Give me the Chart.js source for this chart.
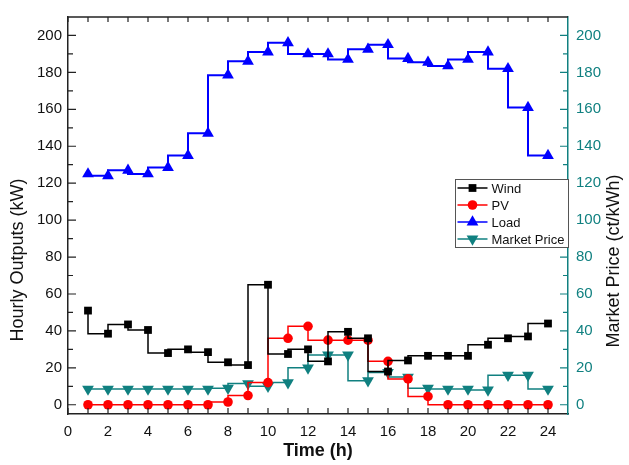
<!DOCTYPE html>
<html>
<head>
<meta charset="utf-8">
<script src="https://cdn.jsdelivr.net/npm/chart.js@4/dist/chart.umd.min.js"></script>
<style>
  html, body { margin: 0; padding: 0; background: #fff; }
  canvas { display: block; }
</style>
</head>
<body>
<canvas id="chart" width="629" height="465"></canvas>
<script>
// data
const hours = [1, 2, 3, 4, 5, 6, 7, 8, 9, 10, 11, 12, 13, 14, 15, 16, 17, 18, 19, 20, 21, 22, 23, 24];
const windOut = [51, 38.5, 43.5, 40.5, 28, 30, 28.5, 23, 21.5, 65, 27.5, 30, 23.5, 39.5, 36, 18, 24, 26.5, 26.5, 26.5, 32.5, 36, 37, 44];
const pvOut = [0, 0, 0, 0, 0, 0, 0, 1.5, 5, 12, 36, 42.5, 35, 35, 35, 23.5, 14, 4.5, 0, 0, 0, 0, 0, 0];
const loadOut = [125, 124, 127, 125, 128.5, 135, 147, 178.5, 186, 191, 196, 190, 190, 187, 192.5, 195, 187.5, 185.5, 183.5, 187, 191, 182, 161, 135];
const marketPrice = [8.5, 8.5, 8.5, 8.5, 8.5, 8.5, 8.5, 9, 11.5, 10, 12, 20, 27, 27, 13, 17.5, 15, 9, 8.5, 8.5, 8, 16, 16, 8.5];

const xTicks = [0, 2, 4, 6, 8, 10, 12, 14, 16, 18, 20, 22, 24];
const yTicks = [0, 20, 40, 60, 80, 100, 120, 140, 160, 180, 200];

const FONT = '"Liberation Sans", Arial, sans-serif';
const TEAL = '#108080';

const pts = vals => hours.map((h, i) => ({ x: h, y: vals[i] }));
const midpoints = arr => arr.slice(1).map((v, i) => (v + arr[i]) / 2);

const series = [
  { label: 'Wind', data: windOut, color: '#000000', style: 'rect', radius: 5.5, rot: 0, axis: 'y' },
  { label: 'PV', data: pvOut, color: '#ff0000', style: 'circle', radius: 4.8, rot: 0, axis: 'y' },
  { label: 'Load', data: loadOut, color: '#0000ff', style: 'triangle', radius: 6.8, rot: 0, axis: 'y' },
  { label: 'Market Price', data: marketPrice, color: TEAL, style: 'triangle', radius: 6.8, rot: 180, axis: 'y1' }
];

function marker(ctx, style, x, y, r, rot, color) {
  ctx.fillStyle = color;
  ctx.beginPath();
  if (style === 'rect') {
    const s = r * Math.SQRT1_2;
    ctx.rect(x - s, y - s, 2 * s, 2 * s);
  } else if (style === 'circle') {
    ctx.arc(x, y, r, 0, Math.PI * 2);
  } else {
    let a = rot * Math.PI / 180;
    ctx.moveTo(x + Math.sin(a) * r, y - Math.cos(a) * r);
    a += Math.PI * 2 / 3;
    ctx.lineTo(x + Math.sin(a) * r, y - Math.cos(a) * r);
    a += Math.PI * 2 / 3;
    ctx.lineTo(x + Math.sin(a) * r, y - Math.cos(a) * r);
    ctx.closePath();
  }
  ctx.fill();
}

const decorations = {
  id: 'decorations',
  afterDraw(chart) {
    const { ctx, chartArea: a, scales } = chart;
    ctx.save();

    // top frame line
    ctx.strokeStyle = '#222';
    ctx.lineWidth = 1.5;
    ctx.beginPath();
    ctx.moveTo(a.left, a.top);
    ctx.lineTo(a.right, a.top);
    ctx.stroke();

    // inward ticks
    const tick = (x1, y1, x2, y2) => { ctx.moveTo(x1, y1); ctx.lineTo(x2, y2); };
    ctx.lineWidth = 1.2;
    ctx.beginPath();
    xTicks.concat(midpoints(xTicks)).forEach(v => {
      const px = scales.x.getPixelForValue(v);
      tick(px, a.bottom, px, a.bottom - 6);
      tick(px, a.top, px, a.top + 5);
    });
    yTicks.forEach(v => { const py = scales.y.getPixelForValue(v); tick(a.left, py, a.left + 8, py); });
    midpoints(yTicks).forEach(v => { const py = scales.y.getPixelForValue(v); tick(a.left, py, a.left + 5, py); });
    ctx.stroke();

    ctx.strokeStyle = TEAL;
    ctx.beginPath();
    yTicks.forEach(v => { const py = scales.y1.getPixelForValue(v); tick(a.right, py, a.right - 8, py); });
    midpoints(yTicks).forEach(v => { const py = scales.y1.getPixelForValue(v); tick(a.right, py, a.right - 5, py); });
    ctx.stroke();

    // axis titles
    ctx.fillStyle = '#111';
    ctx.textAlign = 'center';
    ctx.textBaseline = 'middle';
    ctx.font = '18px ' + FONT;
    ctx.save();
    ctx.translate(18, 260);
    ctx.rotate(-Math.PI / 2);
    ctx.fillText('Hourly Outputs (kW)', 0, 0);
    ctx.restore();
    ctx.save();
    ctx.translate(614, 261);
    ctx.rotate(-Math.PI / 2);
    ctx.fillText('Market Price (ct/kWh)', 0, 0);
    ctx.restore();
    ctx.font = 'bold 18px ' + FONT;
    ctx.fillText('Time (h)', (a.left + a.right) / 2, 451);

    // legend box
    const bx = 455.5, by = 179.5, bw = 113, rowH = 17;
    ctx.fillStyle = '#fff';
    ctx.fillRect(bx, by, bw, rowH * series.length);
    ctx.strokeStyle = '#555';
    ctx.lineWidth = 1;
    ctx.strokeRect(bx, by, bw, rowH * series.length);
    ctx.font = '13px ' + FONT;
    ctx.textAlign = 'left';
    series.forEach((s, i) => {
      const y = by + rowH * (i + 0.5);
      ctx.strokeStyle = s.color;
      ctx.lineWidth = 1.5;
      ctx.beginPath();
      ctx.moveTo(bx + 2, y);
      ctx.lineTo(bx + 32, y);
      ctx.stroke();
      marker(ctx, s.style, bx + 17, y, s.radius, s.rot, s.color);
      ctx.fillStyle = '#111';
      ctx.fillText(s.label, bx + 36, y + 1);
    });

    ctx.restore();
  }
};

new Chart(document.getElementById('chart'), {
  type: 'line',
  data: {
    datasets: series.map(s => ({
      label: s.label,
      data: pts(s.data),
      yAxisID: s.axis,
      stepped: 'after',
      borderColor: s.color,
      borderWidth: s.label === 'Load' ? 2 : 1.5,
      backgroundColor: s.color,
      pointStyle: s.style,
      pointRadius: s.radius,
      pointRotation: s.rot,
      pointBorderWidth: 0,
      pointBackgroundColor: s.color,
      fill: false
    }))
  },
  options: {
    responsive: false,
    animation: false,
    devicePixelRatio: 1,
    layout: { padding: { top: 10, left: 0, right: 0, bottom: 0 } },
    plugins: { legend: { display: false }, tooltip: { enabled: false } },
    scales: {
      x: {
        type: 'linear',
        position: 'bottom',
        min: 0,
        max: 25,
        afterBuildTicks: sc => { sc.ticks = xTicks.map(v => ({ value: v })); },
        afterFit: sc => { sc.height = 51; },
        grid: { display: false, drawTicks: false },
        border: { display: true, color: '#222', width: 1.5 },
        ticks: { padding: 9, color: '#111', font: { size: 15, family: FONT } }
      },
      y: {
        type: 'linear',
        position: 'left',
        min: -5,
        max: 210,
        afterBuildTicks: sc => { sc.ticks = yTicks.map(v => ({ value: v })); },
        afterFit: sc => { sc.width = 68; },
        grid: { display: false, drawTicks: false },
        border: { display: true, color: '#222', width: 1.5 },
        ticks: { padding: 6, color: '#111', font: { size: 15, family: FONT } }
      },
      y1: {
        type: 'linear',
        position: 'right',
        min: -5,
        max: 210,
        afterBuildTicks: sc => { sc.ticks = yTicks.map(v => ({ value: v })); },
        afterFit: sc => { sc.width = 61; },
        grid: { display: false, drawTicks: false },
        border: { display: true, color: TEAL, width: 1.5 },
        ticks: { padding: 8, color: TEAL, font: { size: 15, family: FONT } }
      }
    }
  },
  plugins: [decorations]
});
</script>
</body>
</html>
